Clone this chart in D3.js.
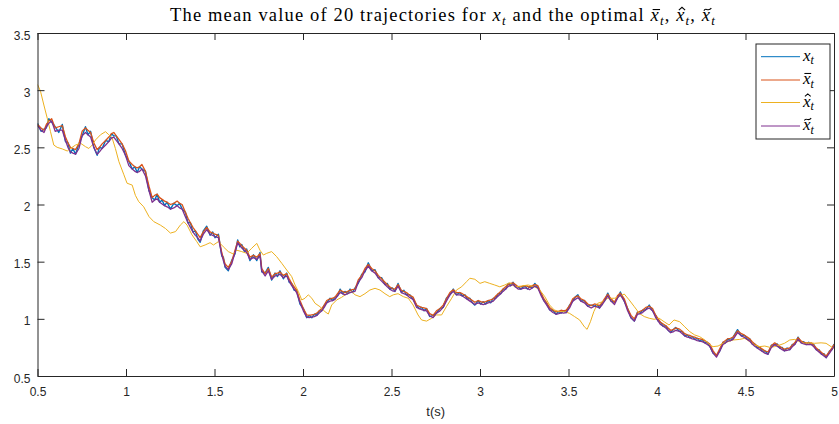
<!DOCTYPE html>
<html>
<head>
<meta charset="utf-8">
<script src="https://d3js.org/d3.v7.min.js"></script>
<style>
  html, body { margin: 0; padding: 0; background: #ffffff; }
  svg { display: block; }
</style>
</head>
<body>
<svg id="chart" width="839" height="424"></svg>
<script>
// Sample times shared by the three noisy trajectories
const tNoisy = [
  0.500,0.520,0.537,0.550,0.564,0.580,0.600,0.620,0.640,0.658,
  0.672,0.686,0.700,0.715,0.734,0.752,0.771,0.785,0.800,0.818,
  0.837,0.850,0.865,0.885,0.903,0.918,0.931,0.945,0.960,0.978,
  0.997,1.016,1.035,1.050,1.063,1.077,1.090,1.110,1.130,1.148,
  1.162,1.176,1.190,1.204,1.218,1.232,1.251,1.270,1.289,1.303,
  1.317,1.336,1.350,1.364,1.378,1.392,1.405,1.419,1.437,1.456,
  1.475,1.490,1.503,1.522,1.541,1.550,1.560,1.578,1.597,1.616,
  1.631,1.643,1.654,1.668,1.682,1.700,1.720,1.739,1.757,1.767,
  1.786,1.804,1.823,1.842,1.856,1.870,1.889,1.908,1.922,1.936,
  1.950,1.964,1.983,2.002,2.021,2.035,2.050,2.064,2.078,2.092,
  2.106,2.120,2.134,2.153,2.167,2.181,2.195,2.210,2.223,2.237,
  2.252,2.266,2.280,2.294,2.312,2.332,2.350,2.369,2.388,2.407,
  2.425,2.444,2.463,2.476,2.490,2.505,2.519,2.537,2.556,2.570,
  2.585,2.604,2.622,2.642,2.656,2.670,2.684,2.698,2.716,2.735,
  2.754,2.774,2.792,2.810,2.830,2.849,2.867,2.886,2.900,2.915,
  2.929,2.943,2.957,2.971,2.990,3.004,3.018,3.032,3.046,3.060,
  3.075,3.089,3.103,3.117,3.130,3.145,3.160,3.173,3.187,3.200,
  3.215,3.230,3.253,3.268,3.280,3.295,3.310,3.327,3.346,3.360,
  3.375,3.393,3.412,3.430,3.445,3.458,3.472,3.487,3.506,3.524,
  3.538,3.553,3.570,3.590,3.609,3.628,3.647,3.661,3.675,3.689,
  3.703,3.722,3.740,3.760,3.778,3.793,3.815,3.834,3.853,3.872,
  3.890,3.904,3.918,3.937,3.956,3.975,3.993,4.007,4.020,4.035,
  4.050,4.063,4.077,4.091,4.105,4.128,4.143,4.157,4.171,4.185,
  4.199,4.213,4.227,4.241,4.255,4.270,4.284,4.298,4.317,4.336,
  4.355,4.373,4.387,4.400,4.415,4.430,4.455,4.477,4.496,4.510,
  4.524,4.538,4.552,4.566,4.580,4.595,4.609,4.627,4.646,4.665,
  4.679,4.693,4.707,4.720,4.735,4.750,4.764,4.778,4.797,4.815,
  4.829,4.843,4.857,4.872,4.886,4.900,4.915,4.930,4.943,4.956,
  4.975,4.988,5.000
];

// x_t : mean of the 20 simulated trajectories
const xMean = [
  2.71,2.64,2.66,2.67,2.75,2.72,2.68,2.63,2.70,2.55,
  2.54,2.45,2.49,2.44,2.53,2.60,2.68,2.61,2.64,2.50,
  2.43,2.50,2.49,2.56,2.55,2.62,2.60,2.60,2.53,2.53,
  2.43,2.38,2.31,2.33,2.28,2.33,2.31,2.29,2.12,2.06,
  2.04,2.09,2.02,2.04,1.99,2.02,1.96,2.01,1.99,2.01,
  1.96,1.93,1.84,1.84,1.76,1.77,1.70,1.67,1.77,1.81,
  1.73,1.76,1.71,1.74,1.55,1.54,1.45,1.42,1.51,1.57,
  1.69,1.63,1.65,1.59,1.61,1.51,1.56,1.51,1.58,1.41,
  1.40,1.45,1.34,1.40,1.37,1.42,1.35,1.40,1.32,1.31,
  1.25,1.25,1.13,1.09,1.01,1.03,1.01,1.04,1.03,1.07,
  1.07,1.12,1.14,1.18,1.16,1.19,1.20,1.26,1.22,1.24,
  1.22,1.26,1.23,1.27,1.31,1.39,1.41,1.49,1.42,1.43,
  1.36,1.36,1.30,1.31,1.26,1.27,1.24,1.31,1.23,1.25,
  1.21,1.21,1.17,1.12,1.09,1.10,1.07,1.09,1.02,1.03,
  1.05,1.09,1.10,1.18,1.21,1.26,1.21,1.23,1.20,1.21,
  1.17,1.18,1.14,1.12,1.16,1.13,1.15,1.13,1.16,1.14,
  1.18,1.18,1.22,1.22,1.26,1.26,1.31,1.29,1.32,1.28,
  1.28,1.26,1.29,1.26,1.28,1.27,1.31,1.27,1.22,1.16,
  1.14,1.08,1.075,1.04,1.065,1.05,1.07,1.055,1.12,1.155,
  1.19,1.21,1.155,1.16,1.11,1.12,1.11,1.125,1.095,1.14,
  1.155,1.225,1.155,1.145,1.185,1.235,1.155,1.09,1.01,0.98,
  1.06,1.045,1.075,1.08,1.12,1.07,1.03,0.98,0.97,0.935,
  0.94,0.90,0.88,0.905,0.925,0.89,0.89,0.85,0.86,0.835,
  0.845,0.82,0.83,0.805,0.82,0.79,0.795,0.76,0.70,0.68,
  0.72,0.795,0.79,0.825,0.81,0.84,0.905,0.85,0.855,0.82,
  0.825,0.78,0.78,0.745,0.75,0.715,0.72,0.69,0.77,0.775,
  0.78,0.745,0.75,0.72,0.745,0.73,0.775,0.775,0.84,0.79,
  0.80,0.775,0.795,0.775,0.775,0.73,0.73,0.69,0.695,0.66,
  0.72,0.73,0.78
];

// x-bar_t
const xBar = [
  2.70,2.67,2.65,2.70,2.73,2.75,2.67,2.68,2.69,2.59,
  2.54,2.50,2.49,2.48,2.53,2.64,2.67,2.65,2.63,2.54,
  2.48,2.50,2.53,2.56,2.59,2.62,2.63,2.60,2.57,2.53,
  2.47,2.38,2.35,2.33,2.32,2.33,2.35,2.29,2.16,2.06,
  2.08,2.09,2.06,2.045,2.03,2.02,2.00,2.01,2.03,2.01,
  2.00,1.93,1.88,1.84,1.80,1.77,1.74,1.71,1.76,1.80,
  1.76,1.75,1.74,1.73,1.58,1.53,1.48,1.45,1.50,1.60,
  1.68,1.66,1.64,1.62,1.60,1.54,1.555,1.54,1.57,1.44,
  1.395,1.44,1.365,1.395,1.40,1.41,1.38,1.395,1.35,1.31,
  1.28,1.25,1.16,1.09,1.035,1.03,1.035,1.04,1.05,1.07,
  1.09,1.12,1.16,1.175,1.18,1.19,1.22,1.25,1.24,1.23,
  1.24,1.25,1.255,1.26,1.34,1.38,1.44,1.475,1.44,1.42,
  1.38,1.35,1.32,1.30,1.28,1.265,1.26,1.30,1.25,1.24,
  1.23,1.205,1.19,1.12,1.11,1.10,1.095,1.09,1.045,1.03,
  1.07,1.09,1.12,1.175,1.23,1.255,1.23,1.23,1.22,1.205,
  1.19,1.175,1.16,1.145,1.16,1.15,1.145,1.15,1.16,1.165,
  1.175,1.20,1.22,1.24,1.26,1.28,1.30,1.31,1.315,1.30,
  1.28,1.28,1.29,1.285,1.275,1.29,1.30,1.29,1.22,1.18,
  1.145,1.10,1.075,1.06,1.065,1.075,1.07,1.075,1.115,1.175,
  1.19,1.20,1.175,1.16,1.13,1.115,1.13,1.125,1.115,1.14,
  1.175,1.215,1.175,1.145,1.205,1.225,1.175,1.09,1.03,1.00,
  1.055,1.065,1.075,1.10,1.11,1.09,1.03,1.00,0.97,0.955,
  0.94,0.92,0.90,0.905,0.92,0.91,0.89,0.87,0.86,0.855,
  0.845,0.84,0.83,0.825,0.82,0.81,0.795,0.78,0.72,0.68,
  0.74,0.795,0.81,0.825,0.83,0.84,0.895,0.87,0.855,0.84,
  0.825,0.80,0.78,0.765,0.75,0.735,0.72,0.71,0.765,0.79,
  0.775,0.76,0.745,0.735,0.74,0.745,0.77,0.79,0.835,0.805,
  0.795,0.79,0.79,0.79,0.77,0.745,0.725,0.705,0.69,0.675,
  0.715,0.745,0.775
];

// x-tilde_t
const xTilde = [
  2.69,2.65,2.63,2.68,2.71,2.73,2.64,2.65,2.65,2.56,
  2.50,2.46,2.45,2.44,2.49,2.60,2.63,2.61,2.59,2.50,
  2.44,2.46,2.49,2.52,2.55,2.58,2.59,2.56,2.53,2.49,
  2.43,2.34,2.31,2.29,2.28,2.29,2.31,2.25,2.12,2.02,
  2.04,2.05,2.02,2.005,1.99,1.98,1.96,1.97,1.99,1.97,
  1.96,1.89,1.84,1.80,1.76,1.73,1.71,1.68,1.74,1.78,
  1.74,1.73,1.72,1.71,1.56,1.51,1.46,1.43,1.48,1.58,
  1.665,1.64,1.62,1.60,1.58,1.52,1.535,1.52,1.55,1.42,
  1.375,1.42,1.345,1.375,1.38,1.39,1.36,1.375,1.33,1.29,
  1.26,1.23,1.14,1.07,1.015,1.01,1.015,1.02,1.03,1.05,
  1.07,1.10,1.14,1.155,1.16,1.17,1.20,1.23,1.22,1.21,
  1.22,1.23,1.235,1.24,1.32,1.36,1.42,1.46,1.42,1.40,
  1.36,1.33,1.30,1.28,1.26,1.245,1.24,1.285,1.23,1.22,
  1.21,1.185,1.17,1.10,1.09,1.08,1.075,1.07,1.025,1.01,
  1.05,1.07,1.10,1.155,1.21,1.24,1.21,1.21,1.20,1.185,
  1.17,1.155,1.14,1.125,1.14,1.13,1.125,1.13,1.14,1.145,
  1.155,1.18,1.20,1.22,1.24,1.26,1.285,1.29,1.30,1.28,
  1.26,1.26,1.27,1.265,1.255,1.27,1.285,1.27,1.20,1.16,
  1.125,1.08,1.055,1.04,1.045,1.055,1.05,1.055,1.095,1.155,
  1.17,1.185,1.155,1.14,1.11,1.095,1.11,1.105,1.095,1.12,
  1.155,1.20,1.155,1.125,1.185,1.21,1.155,1.07,1.01,0.98,
  1.04,1.045,1.055,1.08,1.095,1.07,1.01,0.98,0.95,0.935,
  0.92,0.90,0.88,0.885,0.90,0.89,0.87,0.85,0.84,0.835,
  0.825,0.82,0.81,0.805,0.80,0.79,0.775,0.76,0.70,0.665,
  0.72,0.775,0.79,0.805,0.81,0.82,0.88,0.85,0.835,0.82,
  0.805,0.78,0.76,0.745,0.73,0.715,0.70,0.69,0.75,0.775,
  0.76,0.745,0.73,0.72,0.725,0.73,0.755,0.775,0.82,0.79,
  0.78,0.775,0.775,0.775,0.755,0.73,0.71,0.69,0.675,0.66,
  0.70,0.73,0.76
];

// Sample times and values of x-hat_t
const tHat = [
  0.500,0.517,0.536,0.555,0.573,0.592,0.611,0.640,0.668,0.686,
  0.715,0.743,0.771,0.790,0.809,0.828,0.856,0.884,0.903,0.922,
  0.940,0.960,0.988,1.006,1.035,1.053,1.072,1.100,1.130,1.157,
  1.194,1.223,1.251,1.280,1.307,1.327,1.345,1.373,1.400,1.419,
  1.447,1.475,1.494,1.522,1.550,1.578,1.606,1.626,1.654,1.682,
  1.710,1.739,1.757,1.776,1.795,1.823,1.851,1.880,1.908,1.936,
  1.955,1.974,1.993,2.011,2.030,2.050,2.068,2.096,2.124,2.143,
  2.162,2.190,2.218,2.247,2.275,2.294,2.322,2.350,2.378,2.407,
  2.435,2.463,2.490,2.510,2.537,2.567,2.595,2.622,2.650,2.670,
  2.698,2.727,2.754,2.783,2.810,2.840,2.867,2.896,2.924,2.943,
  2.971,3.000,3.027,3.055,3.083,3.112,3.140,3.168,3.197,3.235,
  3.272,3.310,3.338,3.366,3.393,3.420,3.450,3.478,3.506,3.534,
  3.563,3.590,3.605,3.624,3.643,3.665,3.693,3.722,3.760,3.787,
  3.815,3.843,3.872,3.900,3.928,3.956,3.984,4.012,4.040,4.068,
  4.096,4.128,4.157,4.185,4.213,4.241,4.270,4.298,4.317,4.345,
  4.373,4.400,4.430,4.467,4.496,4.524,4.552,4.580,4.609,4.637,
  4.665,4.693,4.720,4.750,4.778,4.806,4.834,4.862,4.890,4.927,
  4.955,4.983,5.000
];
const xHat = [
  3.05,2.99,2.87,2.755,2.64,2.52,2.50,2.486,2.468,2.49,
  2.52,2.536,2.506,2.49,2.52,2.565,2.61,2.637,2.61,2.58,
  2.49,2.375,2.26,2.186,2.17,2.08,2.025,1.98,1.894,1.85,
  1.82,1.79,1.75,1.763,1.82,1.85,1.82,1.734,1.675,1.63,
  1.646,1.666,1.646,1.675,1.63,1.588,1.567,1.60,1.588,1.573,
  1.617,1.66,1.60,1.558,1.573,1.588,1.544,1.486,1.427,1.37,
  1.296,1.238,1.165,1.18,1.21,1.18,1.136,1.106,1.063,1.042,
  1.121,1.165,1.188,1.22,1.238,1.21,1.194,1.22,1.252,1.267,
  1.252,1.22,1.194,1.21,1.22,1.194,1.18,1.121,1.034,0.99,
  0.98,1.005,1.034,1.034,1.106,1.18,1.252,1.28,1.325,1.355,
  1.346,1.31,1.325,1.31,1.296,1.28,1.296,1.316,1.28,1.287,
  1.296,1.28,1.252,1.194,1.121,1.077,1.063,1.063,1.048,1.02,
  0.99,0.93,0.908,0.975,1.063,1.136,1.15,1.18,1.18,1.194,
  1.217,1.165,1.106,1.048,1.02,1.005,0.996,1.005,0.975,0.946,
  0.99,0.975,0.93,0.888,0.859,0.844,0.815,0.771,0.757,0.762,
  0.786,0.80,0.815,0.82,0.83,0.80,0.771,0.757,0.762,0.751,
  0.757,0.771,0.786,0.815,0.82,0.80,0.786,0.79,0.786,0.79,
  0.786,0.757,0.742
];

// Axis ticks
const xTicks = [0.5, 1, 1.5, 2, 2.5, 3, 3.5, 4, 4.5, 5];
const xTickLabels = ["0.5", "1", "1.5", "2", "2.5", "3", "3.5", "4", "4.5", "5"];
const yTicks = [0.5, 1, 1.5, 2, 2.5, 3, 3.5];
const yTickLabels = ["0.5", "1", "1.5", "2", "2.5", "3", "3.5"];

// Series: accent drawn over x and line colour
const seriesAccents = ["none", "bar", "hat", "tilde"];
const seriesColors = ["#0072BD", "#D95319", "#EDB120", "#7E2F8E"];

const W = 839, H = 424;
const margin = { left: 37.5, right: 5, top: 33, bottom: 48 };
const svg = d3.select("#chart");

const x = d3.scaleLinear().domain([0.5, 5]).range([margin.left, W - margin.right]);
const y = d3.scaleLinear().domain([0.5, 3.5]).range([H - margin.bottom, margin.top]);

const axisColor = "#262626";
const tickFont = "'Liberation Sans', Arial, Helvetica, sans-serif";
const mathFont = "'Liberation Serif', 'Times New Roman', serif";

// plot area
svg.append("rect")
  .attr("x", x(0.5)).attr("y", y(3.5))
  .attr("width", x(5) - x(0.5)).attr("height", y(0.5) - y(3.5))
  .attr("fill", "#ffffff");

svg.append("defs").append("clipPath").attr("id", "plotClip")
  .append("rect")
  .attr("x", x(0.5)).attr("y", y(3.5))
  .attr("width", x(5) - x(0.5)).attr("height", y(0.5) - y(3.5));

// lines
const lineGen = d3.line().x(d => x(d[0])).y(d => y(d[1]));
const plotG = svg.append("g").attr("clip-path", "url(#plotClip)");
const seriesData = [
  { pts: d3.zip(tNoisy, xMean), w: 1.4 },
  { pts: d3.zip(tNoisy, xBar), w: 1.3 },
  { pts: d3.zip(tHat, xHat), w: 1.0 },
  { pts: d3.zip(tNoisy, xTilde), w: 1.3 }
];
seriesData.forEach((s, i) => {
  plotG.append("path")
    .attr("d", lineGen(s.pts))
    .attr("fill", "none")
    .attr("stroke", seriesColors[i])
    .attr("stroke-width", s.w)
    .attr("stroke-linejoin", "round");
});

// axes with inward ticks on all four sides
const tickLen = 7;
function styleAxis(g) {
  g.selectAll("path").attr("stroke", axisColor).attr("stroke-width", 1);
  g.selectAll("line").attr("stroke", axisColor).attr("stroke-width", 1);
  g.selectAll("text").attr("fill", axisColor)
    .attr("font-family", tickFont).attr("font-size", 12);
}
const xLab = d3.scaleOrdinal().domain(xTicks).range(xTickLabels);
const yLab = d3.scaleOrdinal().domain(yTicks).range(yTickLabels);

svg.append("g").attr("transform", `translate(0,${y(0.5)})`)
  .call(d3.axisBottom(x).tickValues(xTicks).tickFormat(d => xLab(d))
    .tickSizeInner(-tickLen).tickSizeOuter(0).tickPadding(11))
  .call(styleAxis);
svg.append("g").attr("transform", `translate(0,${y(3.5)})`)
  .call(d3.axisTop(x).tickValues(xTicks).tickFormat("")
    .tickSizeInner(-tickLen).tickSizeOuter(0))
  .call(styleAxis)
  .selectAll("text").remove();
svg.append("g").attr("transform", `translate(${x(0.5)},0)`)
  .call(d3.axisLeft(y).tickValues(yTicks).tickFormat(d => yLab(d))
    .tickSizeInner(-tickLen).tickSizeOuter(0).tickPadding(7))
  .call(styleAxis)
  .selectAll("text").attr("dy", "0.5em");
svg.append("g").attr("transform", `translate(${x(5)},0)`)
  .call(d3.axisRight(y).tickValues(yTicks).tickFormat("")
    .tickSizeInner(-tickLen).tickSizeOuter(0))
  .call(styleAxis)
  .selectAll("text").remove();

// x-axis title
svg.append("text")
  .attr("x", (x(0.5) + x(5)) / 2).attr("y", 416)
  .attr("text-anchor", "middle")
  .attr("font-family", tickFont).attr("font-size", 13)
  .attr("fill", axisColor)
  .text("t(s)");

// typeset a run of parts: plain text, or "x_t" (returns the x tspans)
function typeset(textSel, parts, size) {
  const shift = size * 0.22;
  let lowered = false;
  const xs = [];
  parts.forEach(p => {
    if (p === "xt") {
      const xsp = textSel.append("tspan").attr("font-style", "italic").text("x");
      if (lowered) { xsp.attr("dy", -shift); lowered = false; }
      xs.push(xsp);
      textSel.append("tspan").attr("font-style", "italic")
        .attr("font-size", size * 0.7).attr("dy", shift).text("t");
      lowered = true;
    } else {
      const sp = textSel.append("tspan").text(p);
      if (lowered) { sp.attr("dy", -shift); lowered = false; }
    }
  });
  return xs;
}

// accent (bar, hat, tilde) over a rendered x glyph
function drawAccent(parent, xsNode, kind, size) {
  if (kind === "none") return;
  const p0 = xsNode.getStartPositionOfChar(0);
  const p1 = xsNode.getEndPositionOfChar(0);
  const cx = (p0.x + p1.x) / 2 + size * 0.06;
  const cy = p0.y - size * 0.62;
  const hw = size * 0.2;
  let d;
  if (kind === "bar") {
    d = `M${cx - hw},${cy} L${cx + hw},${cy}`;
  } else if (kind === "hat") {
    d = `M${cx - hw * 0.85},${cy + size * 0.03} L${cx},${cy - size * 0.12} L${cx + hw * 0.85},${cy + size * 0.03}`;
  } else {
    const a = size * 0.14;
    d = `M${cx - hw},${cy + a * 0.45} C${cx - hw * 0.6},${cy - a * 1.1} ${cx + hw * 0.1},${cy + a * 1.1} ${cx + hw},${cy - a * 0.55}`;
  }
  parent.append("path").attr("d", d)
    .attr("fill", "none").attr("stroke", "#000000")
    .attr("stroke-width", size * 0.06).attr("stroke-linejoin", "miter");
}

// chart title
const titleSize = 18.5;
const titleG = svg.append("g");
const title = titleG.append("text")
  .attr("x", 443).attr("y", 21)
  .attr("text-anchor", "middle")
  .attr("font-family", mathFont).attr("font-size", titleSize)
  .attr("fill", "#000000");
const titleXs = typeset(title,
  ["The mean value of 20 trajectories for ", "xt", " and the optimal ", "xt", ", ", "xt", ", ", "xt"],
  titleSize);
// spread the title to its full typeset width
const titleTarget = 546;
const nChars = title.node().getNumberOfChars();
const natural = title.node().getComputedTextLength();
title.attr("letter-spacing", (titleTarget - natural) / nChars);
titleXs.forEach((n, i) => drawAccent(titleG, n.node(), seriesAccents[i], titleSize));

// legend
const legX = 756, legY = 44, legW = 74, legH = 95;
const leg = svg.append("g");
leg.append("rect")
  .attr("x", legX).attr("y", legY).attr("width", legW).attr("height", legH)
  .attr("fill", "#ffffff").attr("stroke", axisColor).attr("stroke-width", 1);
const legRows = [56.7, 80, 102.5, 126];
const legSize = 17;
seriesColors.forEach((c, i) => {
  leg.append("line")
    .attr("x1", 761).attr("x2", 800)
    .attr("y1", legRows[i]).attr("y2", legRows[i])
    .attr("stroke", c).attr("stroke-width", 1);
  const t = leg.append("text")
    .attr("x", 803).attr("y", legRows[i] + 4)
    .attr("font-family", mathFont).attr("font-size", legSize)
    .attr("fill", "#000000");
  const xs = typeset(t, ["xt"], legSize);
  drawAccent(leg, xs[0].node(), seriesAccents[i], legSize);
});
</script>
</body>
</html>
